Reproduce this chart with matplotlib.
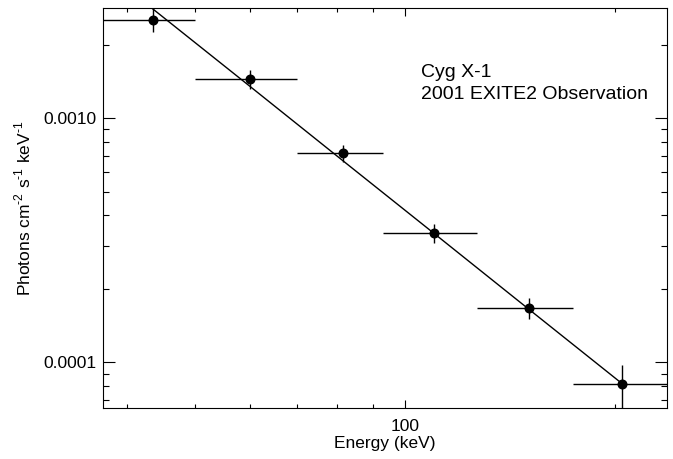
import numpy as np
import matplotlib
matplotlib.use("Agg")
import matplotlib.pyplot as plt
from matplotlib.ticker import FuncFormatter, NullFormatter, LogLocator

plt.rcParams["font.family"] = ["Liberation Sans", "DejaVu Sans"]
plt.rcParams["mathtext.fontset"] = "custom"
plt.rcParams["mathtext.rm"] = "Liberation Sans"
plt.rcParams["axes.linewidth"] = 0.8

# energy bins (keV) and measured spectrum
energy = np.array([43.5, 60.0, 81.6, 110.0, 150.5, 204.8])
e_lo = np.array([36.0, 50.0, 70.0, 93.0, 126.8, 174.1])
e_hi = np.array([50.0, 70.0, 93.0, 126.8, 174.1, 241.0])
flux = np.array([2.53e-3, 1.448e-3, 7.23e-4, 3.38e-4, 1.667e-4, 8.14e-5])
flux_lo = np.array([2.256e-3, 1.315e-3, 6.60e-4, 3.08e-4, 1.502e-4, 4.0e-5])
flux_hi = np.array([2.829e-3, 1.577e-3, 7.77e-4, 3.69e-4, 1.842e-4, 9.77e-5])
# power-law model evaluated at the bin centres
model = np.array([2.81e-3, 1.35e-3, 6.68e-4, 3.38e-4, 1.65e-4, 8.17e-5])

fig = plt.figure(figsize=(6.73, 4.59), dpi=100)
ax = fig.add_axes([0.153, 0.1105, 0.838, 0.871])

ax.plot(energy, model, color="black", linewidth=1.0)
ax.errorbar(energy, flux,
            xerr=[energy - e_lo, e_hi - energy],
            yerr=[flux - flux_lo, flux_hi - flux],
            fmt="o", color="black", ecolor="black", elinewidth=1.0,
            markersize=6.2, capsize=0)

ax.set_xscale("log")
ax.set_yscale("log")
ax.set_xlim(36.94, 237.2)
ax.set_ylim(6.49e-5, 2.816e-3)

ax.xaxis.set_major_locator(LogLocator(base=10))
ax.xaxis.set_major_formatter(FuncFormatter(lambda v, _: f"{v:.0f}"))
ax.xaxis.set_minor_formatter(NullFormatter())
ax.yaxis.set_major_formatter(FuncFormatter(lambda v, _: f"{v:.4f}"))
ax.yaxis.set_minor_formatter(NullFormatter())

ax.tick_params(which="both", direction="in", top=True, right=True,
               labelsize=12.5, width=0.8)
ax.xaxis.set_tick_params(which="major", length=5.8, pad=8)
ax.xaxis.set_tick_params(which="minor", length=2.9)
ax.yaxis.set_tick_params(which="major", length=8.6, pad=4.5)
ax.yaxis.set_tick_params(which="minor", length=4.3)

ax.set_xlabel("Energy (keV)", fontsize=12.5, labelpad=1)
ax.set_ylabel(r"Photons cm$^{\text{-2}}$ s$^{\text{-1}}$ keV$^{\text{-1}}$",
              fontsize=12.5, labelpad=7)

ax.text(0.5633, 0.828, "Cyg X-1", transform=ax.transAxes, fontsize=14,
        ha="left", va="baseline")
ax.text(0.5633, 0.773, "2001 EXITE2 Observation", transform=ax.transAxes,
        fontsize=14, ha="left", va="baseline")

fig.savefig("out.png", dpi=100)
